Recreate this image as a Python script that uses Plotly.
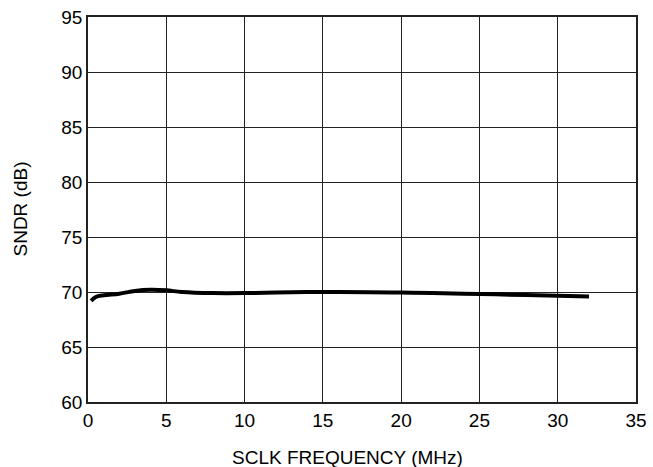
import plotly.graph_objects as go

freq_mhz = [0.2, 0.5, 1.0, 2.0, 3.0, 4.0, 5.0, 6.0, 8.0, 10.0, 12.0, 15.0, 18.0, 20.0, 22.0, 25.0, 28.0, 30.0, 32.0]
sndr_db = [69.2, 69.55, 69.7, 69.85, 70.1, 70.2, 70.15, 70.0, 69.9, 69.9, 69.95, 70.0, 69.98, 69.95, 69.9, 69.82, 69.72, 69.65, 69.6]

x_ticks = [0, 5, 10, 15, 20, 25, 30, 35]
y_ticks = [60, 65, 70, 75, 80, 85, 90, 95]

fig = go.Figure()
fig.add_trace(go.Scatter(
    x=freq_mhz, y=sndr_db, mode="lines",
    line=dict(color="black", width=4, shape="spline", smoothing=1.0),
    showlegend=False, hoverinfo="skip",
))

font = dict(family="Liberation Sans, Arial, sans-serif", size=19, color="black")
fig.update_layout(
    width=653, height=467,
    margin=dict(l=88, r=17, t=17, b=65, autoexpand=False),
    paper_bgcolor="white", plot_bgcolor="white",
    font=font,
)
fig.update_xaxes(
    range=[0, 35], tickvals=x_ticks, ticks="", showgrid=True,
    gridcolor="#222222", gridwidth=1, showline=True, linecolor="#222222",
    linewidth=1.5, mirror=True, zeroline=False, automargin=False,
    ticklabeloverflow="allow", tickfont=font,
)
fig.update_yaxes(
    range=[60, 95], tickvals=y_ticks, ticks="", showgrid=True,
    gridcolor="#222222", gridwidth=1, showline=True, linecolor="#222222",
    linewidth=1.5, mirror=True, zeroline=False, automargin=False,
    ticklabeloverflow="allow", tickfont=font,
)
fig.add_annotation(
    text="SCLK FREQUENCY (MHz)", xref="paper", yref="paper", x=0.474, y=0,
    xanchor="center", yanchor="middle", yshift=-55, showarrow=False, font=font,
)
fig.add_annotation(
    text="SNDR (dB)", xref="paper", yref="paper", x=0, y=0.5, textangle=-90,
    xanchor="center", yanchor="middle", xshift=-68, showarrow=False, font=font,
)
fig.write_html("out.html", config={"displayModeBar": False},
               post_script="document.body.style.margin='0';")
